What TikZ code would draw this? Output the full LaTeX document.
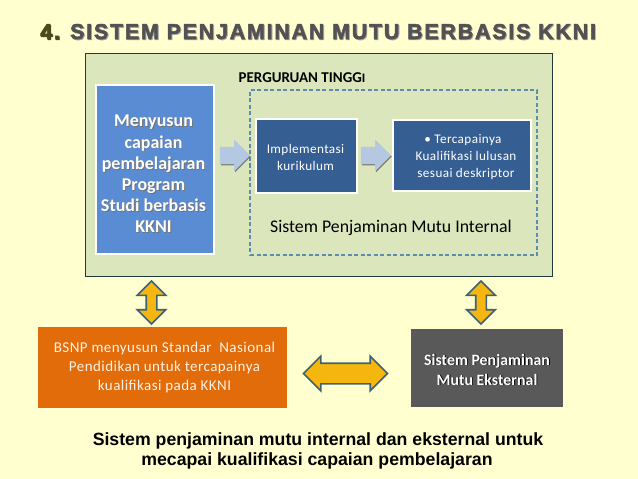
\documentclass[tikz,border=0pt]{standalone}
\usepackage{fontspec}
\usetikzlibrary{shapes.arrows,shadows}
\setmainfont{Carlito}
\newfontfamily\arialb[FakeBold=2.4,LetterSpace=8.1]{Liberation Sans Bold}
\newfontfamily\capf{Liberation Sans Bold}
\newfontfamily\spaced[LetterSpace=3]{Carlito}
\definecolor{pagebg}{HTML}{FFFFD0}
\definecolor{panelgreen}{HTML}{DCE6BC}
\definecolor{panelline}{HTML}{1F3A3A}
\definecolor{blue1}{HTML}{5A8CD3}
\definecolor{blue2}{HTML}{355E92}
\definecolor{orangebox}{HTML}{E36C0A}
\definecolor{graybox}{HTML}{595959}
\definecolor{dashblue}{HTML}{5D8CAE}
\definecolor{ylw}{HTML}{F5B60F}
\definecolor{ylwline}{HTML}{3F6273}
\definecolor{lblue}{HTML}{B4C8E2}
\newcommand{\shtx}[2][black!55]{\leavevmode\rlap{\raisebox{-.9pt}{\kern.9pt\textcolor{#1}{#2}}}#2}
\tikzset{
  x=1pt,y=-1pt,
  box/.style={draw=white,line width=1.2pt,inner sep=0pt,align=center,text=white},
  dbl/.style={shape=double arrow,draw=ylwline,line width=1.6pt,fill=ylw,inner sep=0pt,
     double arrow head extend=#1},
  flow/.style={shape=single arrow,fill=lblue,inner sep=0pt,minimum height=30pt,minimum width=31pt,
     single arrow head extend=7pt,inner ysep=8.5pt,
     drop shadow={shadow xshift=.9pt,shadow yshift=-1.2pt,fill=black!60,opacity=.8}},
  lbl/.style={align=center,inner sep=0pt}
}
\begin{document}
\begin{tikzpicture}
\useasboundingbox (0,0) rectangle (638,479);
\fill[pagebg] (0,0) rectangle (638,479);
\node[lbl,anchor=base west,font=\arialb\fontsize{21.5}{24}\selectfont,text=black!68] (title) at (40,39)
  {\shtx[black!35]{\textcolor[HTML]{4A4A20}{4.} SISTEM PENJAMINAN MUTU BERBASIS KKNI}};
\node[draw=panelline,line width=1pt,fill=panelgreen,minimum width=467pt,minimum height=223pt,inner sep=0pt] (panel) at (318.5,164.5) {};
\node[lbl,anchor=base,font=\bfseries\fontsize{15}{18}\selectfont] (pt) at (302,82) {PERGURUAN TINGG{\fontsize{13}{14}\selectfont I}};
\node[draw=dashblue,dashed,dash pattern=on 4pt off 2.5pt,line width=1.2pt,minimum width=287pt,minimum height=165pt,inner sep=0pt] (spmi) at (393.5,172.5) {};
\node[box,fill=blue1,minimum width=118pt,minimum height=169pt] (susun) at (155,169.5) {};
\node[lbl,text=white,font=\bfseries\fontsize{18}{21.2}\selectfont] (susunt) at (153.5,174.5)
 {\shtx{Menyusun}\\\shtx{capaian}\\\shtx{pembelajaran}\\\shtx{Program}\\\shtx{Studi berbasis}\\\shtx{KKNI}};
\node[box,fill=blue2,minimum width=101pt,minimum height=74pt] (impl) at (306.5,156) {};
\node[lbl,text=white,font=\spaced\fontsize{13.2}{17}\selectfont] (implt) at (305.5,157) {Implementasi\\kurikulum};
\node[box,fill=blue2,minimum width=138pt,minimum height=71pt] (capai) at (462,155.5) {};
\node[lbl,text=white,font=\spaced\fontsize{13.2}{17}\selectfont] (capait) at (466,157) {\hspace*{-6pt}• Tercapainya\\Kualifikasi lulusan\\sesuai deskriptor};
\node[flow] (a1) at (230.5,155.5) {};
\node[flow] (a2) at (371.5,155.5) {};
\node[lbl,anchor=base,font=\fontsize{17.8}{20}\selectfont] (spmilbl) at (391,232.5) {Sistem Penjaminan Mutu Internal};
\node[box,draw=none,fill=orangebox,minimum width=249pt,minimum height=81pt] (bsnp) at (162.5,367.5) {};
\node[lbl,text=orange!10!white,font=\spaced\fontsize{15}{19}\selectfont] (bsnpt) at (164.5,367.5)
 {BSNP menyusun Standar\ \ Nasional\\Pendidikan untuk tercapainya\\kualifikasi pada KKNI};
\node[box,draw=none,fill=graybox,minimum width=152pt,minimum height=78pt] (spme) at (487,368) {};
\node[lbl,text=white,font=\bfseries\fontsize{15.9}{20}\selectfont] (spmet) at (487,370)
 {\shtx[black]{Sistem Penjaminan}\\\shtx[black]{Mutu Eksternal}};
\node[dbl=9pt,rotate=90,minimum height=43pt,minimum width=27pt,inner ysep=4.5pt] (v1) at (151.5,302.5) {};
\node[dbl=9pt,rotate=90,minimum height=43pt,minimum width=27pt,inner ysep=4.5pt] (v2) at (481,302.5) {};
\node[dbl=7pt,minimum height=84pt,minimum width=33pt,inner ysep=9.5pt] (h1) at (345.5,373.5) {};
\node[lbl,anchor=base,font=\capf\fontsize{17.7}{20}\selectfont] (cap1) at (318,445) {Sistem penjaminan mutu internal dan eksternal untuk};
\node[lbl,anchor=base,font=\capf\fontsize{17.7}{20}\selectfont] (cap2) at (317,465) {mecapai kualifikasi capaian pembelajaran};
\end{tikzpicture}
\end{document}
